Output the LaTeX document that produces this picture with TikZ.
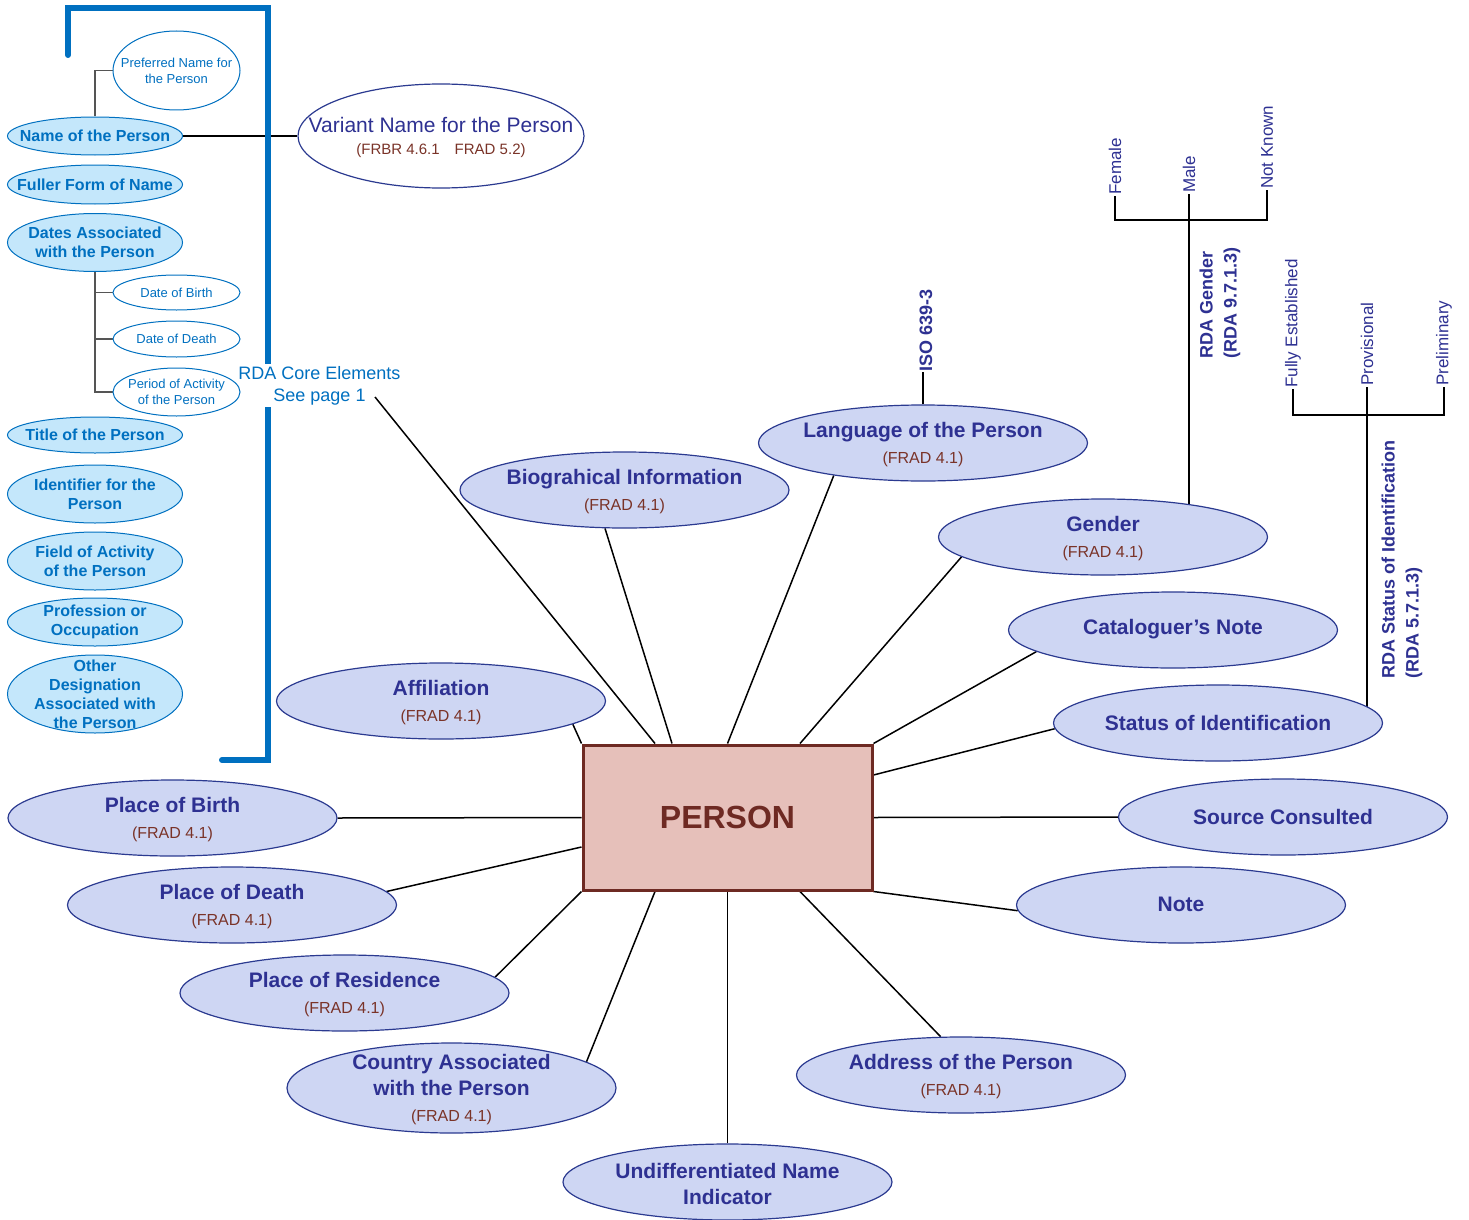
\documentclass[tikz,border=0pt]{standalone}
\usepackage{fontspec}
\setmainfont{Liberation Sans}
\usetikzlibrary{shapes.geometric,backgrounds}
\definecolor{navytext}{HTML}{2E3192}
\definecolor{navyline}{HTML}{2B3A90}
\definecolor{lavender}{HTML}{CED6F3}
\definecolor{refbrown}{HTML}{7A3328}
\definecolor{coreblue}{HTML}{0070C0}
\definecolor{lightblue}{HTML}{C4E7FB}
\definecolor{personfill}{HTML}{E6C0BA}
\definecolor{personline}{HTML}{6E2A23}
\definecolor{treegray}{HTML}{555555}
\tikzset{
  attr/.style={ellipse, draw=navyline, fill=lavender, line width=1.2pt,
    minimum width=329pt, minimum height=76pt, inner sep=0pt},
  attrlbl/.style={align=center, text=navytext, inner sep=0pt, yshift=-1.5pt,
    font=\fontsize{21}{26}\selectfont\bfseries},
  attrone/.style={attrlbl, yshift=2pt},
  core/.style={ellipse, draw=coreblue, fill=lightblue, line width=1pt,
    minimum width=175pt, inner sep=0pt},
  corelbl/.style={align=center, text=coreblue, inner sep=0pt,
    font=\fontsize{16}{19}\selectfont\bfseries},
  subel/.style={ellipse, draw=coreblue, fill=white, line width=1pt,
    minimum width=127pt, inner sep=0pt},
  sublbl/.style={align=center, text=coreblue, inner sep=0pt,
    font=\fontsize{13}{16}\selectfont},
  link/.style={black, line width=1.5pt},
  tree/.style={treegray, line width=1.4pt},
  vlbl/.style={rotate=90, anchor=west, text=navytext, inner sep=1pt,
    font=\fontsize{17}{20}\selectfont},
  vhead/.style={rotate=90, anchor=west, align=left, text=navytext, inner sep=0pt,
    font=\fontsize{18}{24}\selectfont\bfseries},
}
\newcommand{\frad}[1]{{\fontsize{16}{20}\selectfont\mdseries\color{refbrown}(FRAD #1)}}
\begin{document}
\begin{tikzpicture}[x=1pt,y=-1pt]
  \useasboundingbox (0,0) rectangle (1469,1220);
  % core elements bracket
  \draw[coreblue, line width=6pt, line cap=round] (68,55) -- (68,8) -- (268,8) -- (268,760) -- (222,760);
  \node[fill=white, align=center, text=coreblue, inner sep=2pt,
    font=\fontsize{18}{22}\selectfont] (corenote) at (319.5,385.5) {RDA Core Elements\\See page 1};
  \coordinate (corept) at (375,397);
  % RDA core elements
  \node[core, minimum height=38pt, label={[corelbl]center:{Name of the Person}}] (name) at (95,136) {};
  \node[core, minimum height=39pt, label={[corelbl]center:{Fuller Form of Name}}] (fuller) at (95,184.5) {};
  \node[core, minimum height=58pt, label={[corelbl]center:{Dates Associated\\with the Person}}] (dates) at (95,242.5) {};
  \node[core, minimum height=36pt, label={[corelbl]center:{Title of the Person}}] (title) at (95,435) {};
  \node[core, minimum height=58pt, label={[corelbl]center:{Identifier for the\\Person}}] (ident) at (95,494) {};
  \node[core, minimum height=58pt, label={[corelbl]center:{Field of Activity\\of the Person}}] (field) at (95,561) {};
  \node[core, minimum height=48pt, label={[corelbl]center:{Profession or\\Occupation}}] (prof) at (95,622) {};
  \node[core, minimum height=78pt, label={[corelbl]center:{Other\\Designation\\Associated with\\the Person}}] (other) at (95,694) {};
  \node[subel, minimum height=79pt, label={[sublbl]center:{Preferred Name for\\the Person}}] (pref) at (176.5,70.5) {};
  \node[subel, minimum height=35pt, label={[sublbl]center:{Date of Birth}}] (dob) at (176.5,292.5) {};
  \node[subel, minimum height=36pt, label={[sublbl]center:{Date of Death}}] (dod) at (176.5,339) {};
  \node[subel, minimum height=48pt, label={[sublbl]center:{Period of Activity\\of the Person}}] (pact) at (176.5,392) {};
  \node[ellipse, draw=navyline, fill=white, line width=1.2pt, minimum width=286pt, minimum height=104pt, inner sep=0pt,
    label={[align=center, text=navytext, inner sep=0pt, yshift=-1.5pt, font=\fontsize{21}{22}\selectfont]center:{Variant Name for the Person\\{\fontsize{15}{18}\selectfont\color{refbrown}(FRBR 4.6.1\quad FRAD 5.2)}}}] (variant) at (441,136) {};
  % person and its attributes
  \node[draw=personline, fill=personfill, line width=3pt, minimum width=289pt, minimum height=145pt, inner sep=0pt,
    text=personline, font=\fontsize{32}{38}\selectfont\bfseries] (person) at (727.5,817.5) {PERSON};
  \node[attr, label={[attrlbl]center:{Affiliation\\\frad{4.1}}}] (aff) at (441,701) {};
  \node[attr, label={[attrlbl]center:{Biograhical Information\\\frad{4.1}}}] (bio) at (624.5,490) {};
  \node[attr, label={[attrlbl]center:{Language of the Person\\\frad{4.1}}}] (lang) at (923,443) {};
  \node[attr, label={[attrlbl]center:{Gender\\\frad{4.1}}}] (gend) at (1103,537) {};
  \node[attr, label={[attrone]center:{Cataloguer’s Note}}] (catn) at (1173,630) {};
  \node[attr, label={[attrone]center:{Status of Identification}}] (stat) at (1218,723) {};
  \node[attr, label={[attrone]center:{Source Consulted}}] (src) at (1283,817) {};
  \node[attr, label={[attrone]center:{Note}}] (note) at (1181,905) {};
  \node[attr, label={[attrlbl]center:{Address of the Person\\\frad{4.1}}}] (addr) at (961,1075) {};
  \node[attr, label={[attrlbl]center:{Undifferentiated Name\\Indicator}}] (undiff) at (727.5,1182) {};
  \node[attr, minimum height=90pt, label={[attrlbl]center:{Country Associated\\with the Person\\\frad{4.1}}}] (ctry) at (451.5,1088) {};
  \node[attr, label={[attrlbl]center:{Place of Residence\\\frad{4.1}}}] (res) at (344.5,993) {};
  \node[attr, label={[attrlbl]center:{Place of Death\\\frad{4.1}}}] (pdeath) at (232,905) {};
  \node[attr, label={[attrlbl]center:{Place of Birth\\\frad{4.1}}}] (pbirth) at (172.5,818) {};
  % value lists
  \node[vhead] (iso) at (926,372) {ISO 639-3};
  \node[vlbl] (fem) at (1115,196) {Female};
  \node[vlbl] (male) at (1189,194) {Male};
  \node[vlbl] (nknown) at (1267,190) {Not Known};
  \coordinate (gtop) at (1189,220);
  \node[vhead] (gendhead) at (1220,359) {RDA Gender\\(RDA 9.7.1.3)};
  \node[vlbl] (fully) at (1293,389) {Fully Established};
  \node[vlbl] (prov) at (1367,387) {Provisional};
  \node[vlbl] (prel) at (1444,387) {Preliminary};
  \coordinate (stop) at (1367,415);
  \node[vhead] (stathead) at (1402,679) {RDA Status of Identification\\(RDA 5.7.1.3)};
  \draw[link] (corept) -- ([xshift=-72.5]person.north);
  \begin{scope}[on background layer]
    \draw[tree] (pref.west) -| (name.north);
    \draw[tree] (dates.south) |- (pact.west);
    \draw[tree] (dob.west) -- (dob.west -| dates.south);
    \draw[tree] (dod.west) -- (dod.west -| dates.south);
    \path[link] (name.east) edge (variant.west);
    \path[link] (aff.-10.5) edge (person.north west);
    \path[link] (bio.-117) edge ([xshift=-55.5]person.north);
    \path[link] (lang.200) edge (person.north);
    \path[link] (gend.188) edge ([xshift=72.5]person.north);
    \path[link] (catn.189) edge (person.north east);
    \path[link] (stat.182.5) edge ([yshift=42.5]person.east);
    \path[link] (src.west) edge (person.east);
    \path[link] (note.182) edge (person.south east);
    \path[link] (addr.118) edge ([xshift=72.5]person.south);
    \path[link] (undiff.north) edge (person.south);
    \path[link] (ctry.11.4) edge ([xshift=-72.5]person.south);
    \path[link] (res.6) edge (person.south west);
    \path[link] (pdeath.5) edge ([yshift=-29.5]person.west);
    \path[link] (pbirth.east) edge (person.west);
    \draw[link] (lang.north) -- (lang.north |- iso.west);
    \draw[link] (fem.west) |- (nknown.west |- gtop) -- (nknown.west);
    \draw[link] (male.west) -- (gtop);
    \draw[link] (gtop) -- (gtop |- gend.center);
    \draw[link] (fully.west) |- (prel.west |- stop) -- (prel.west);
    \draw[link] (prov.west) -- (stop);
    \draw[link] (stop) -- (stop |- stat.center);
  \end{scope}
\end{tikzpicture}
\end{document}
